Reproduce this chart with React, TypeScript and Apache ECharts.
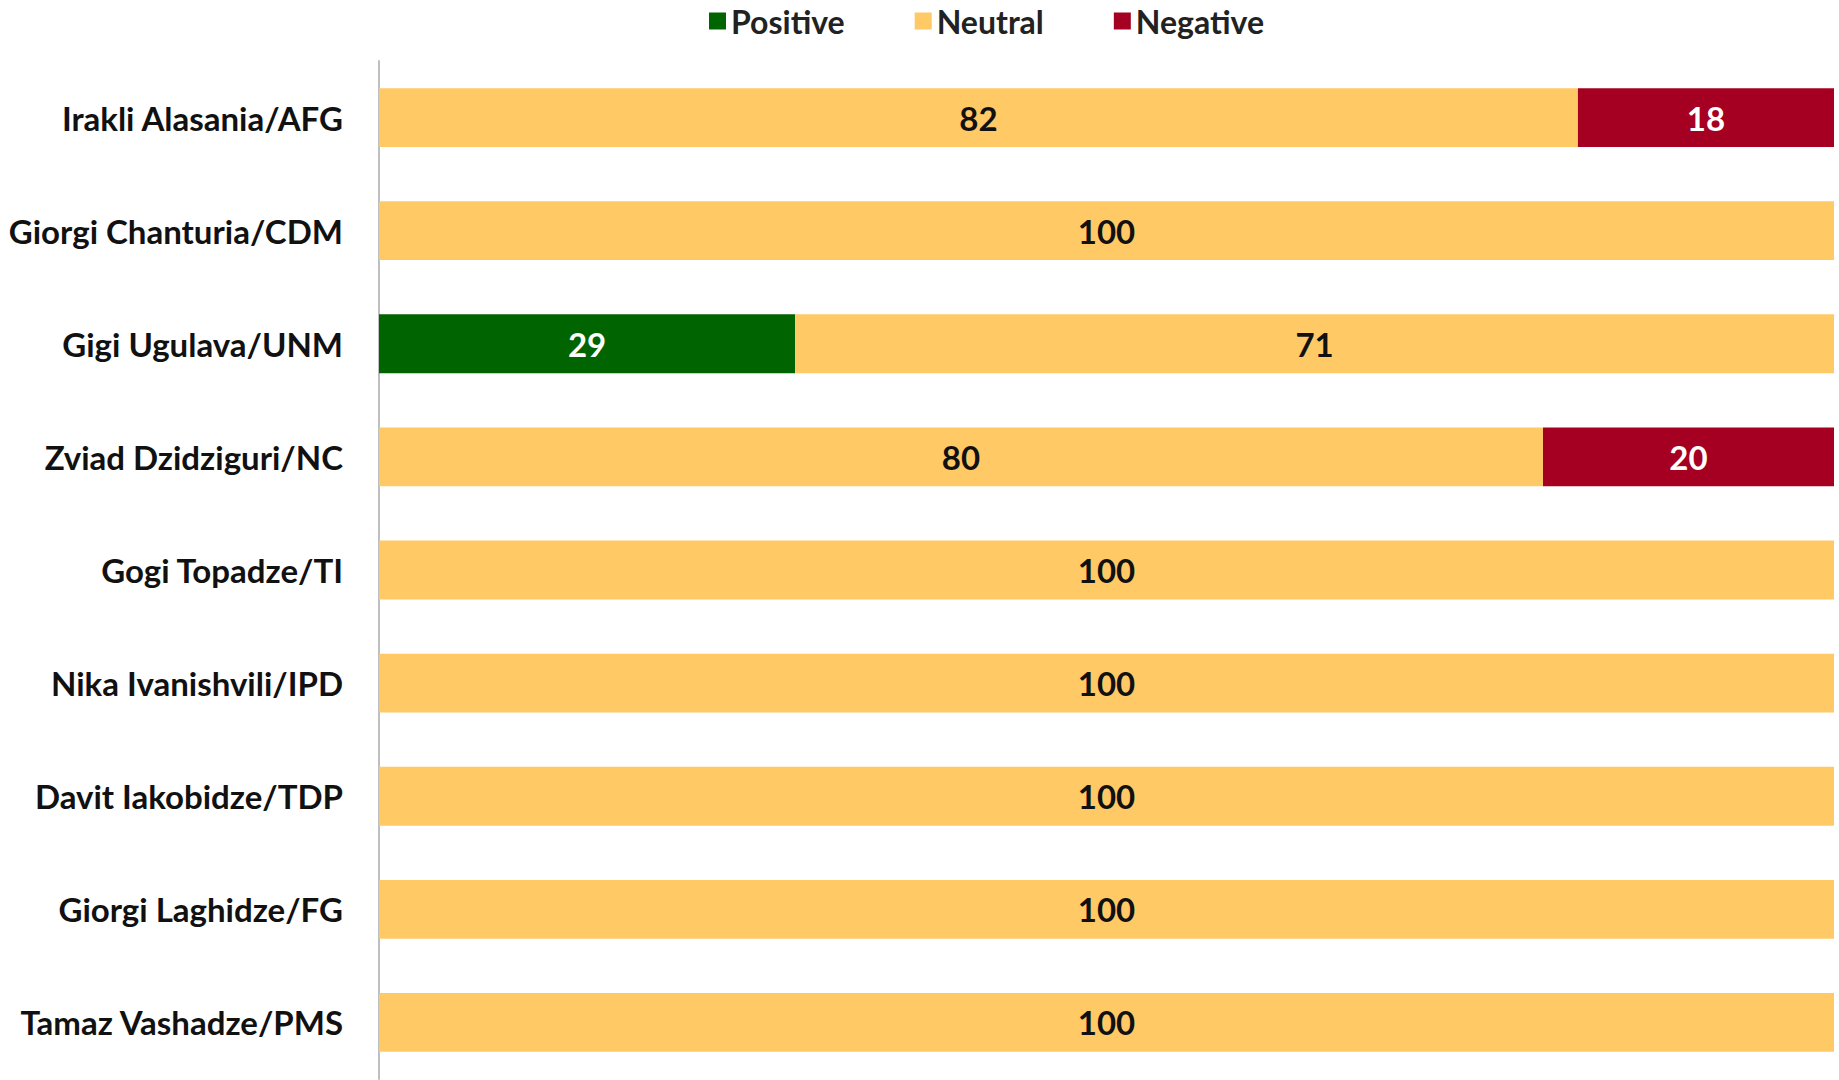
import React, { useEffect, useRef } from "react";
import * as echarts from "echarts";

const categories = [
  "Irakli Alasania/AFG",
  "Giorgi Chanturia/CDM",
  "Gigi Ugulava/UNM",
  "Zviad Dzidziguri/NC",
  "Gogi Topadze/TI",
  "Nika Ivanishvili/IPD",
  "Davit Iakobidze/TDP",
  "Giorgi Laghidze/FG",
  "Tamaz Vashadze/PMS",
];
const positive = [0, 0, 28.6, 0, 0, 0, 0, 0, 0];
const neutral = [82.4, 100, 71.4, 80, 100, 100, 100, 100, 100];
const negative = [17.6, 0, 0, 20, 0, 0, 0, 0, 0];

const FONT = "Lato";
const FS = 33;

export default function App() {
  const ref = useRef<HTMLDivElement>(null);
  useEffect(() => {
    if (!ref.current) return;
    const chart = echarts.init(ref.current, null, { renderer: "svg" });
    const label = (color: string) => ({
      show: true,
      position: "inside",
      color,
      fontFamily: FONT,
      fontWeight: "bold",
      fontSize: FS,
      formatter: (p: any) => (p.value > 0 ? String(Math.round(p.value)) : ""),
    });
    chart.setOption({
      animation: false,
      legend: {
        top: 0,
        left: 704,
        itemWidth: 17,
        itemHeight: 17,
        itemGap: 70,
        icon: "rect",
        textStyle: { fontFamily: FONT, fontWeight: "bold", fontSize: 32, color: "#222" },
        data: ["Positive", "Neutral", "Negative"],
      },
      grid: { left: 379, right: 5, top: 61, bottom: 1 },
      xAxis: {
        type: "value",
        min: 0,
        max: 100,
        show: false,
      },
      yAxis: {
        type: "category",
        inverse: true,
        data: categories,
        axisLine: { show: true, lineStyle: { color: "#BFBFBF", width: 2 } },
        axisTick: { show: false },
        axisLabel: {
          margin: 36,
          fontFamily: FONT,
          fontWeight: "bold",
          fontSize: FS,
          color: "#111",
        },
      },
      series: [
        {
          name: "Positive",
          type: "bar",
          stack: "s",
          barCategoryGap: "48%",
          itemStyle: { color: "#006400" },
          label: label("#ffffff"),
          data: positive,
        },
        {
          name: "Neutral",
          type: "bar",
          stack: "s",
          itemStyle: { color: "#FFC965" },
          label: label("#111111"),
          data: neutral,
        },
        {
          name: "Negative",
          type: "bar",
          stack: "s",
          itemStyle: { color: "#A50021" },
          label: label("#ffffff"),
          data: negative,
        },
      ],
    });
    return () => chart.dispose();
  }, []);
  return <div ref={ref} style={{ width: 1839, height: 1080, position: "absolute", left: 0, top: 0 }} />;
}
